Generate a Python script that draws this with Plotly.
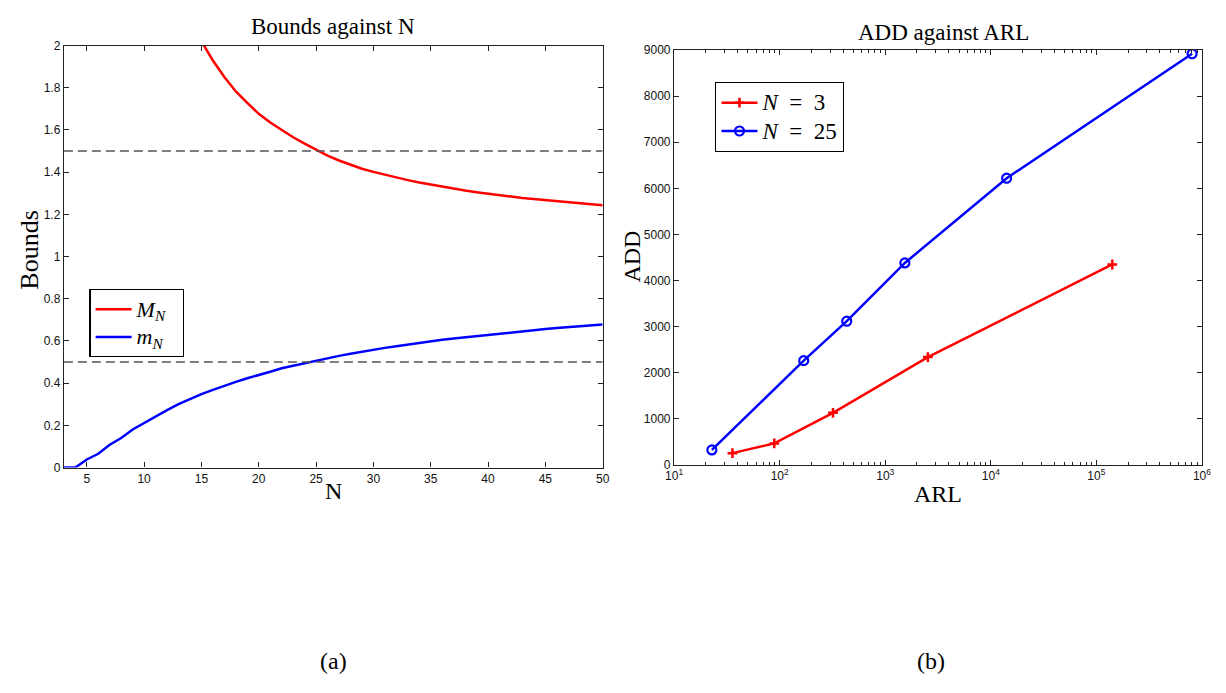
import plotly.graph_objects as go

W, H = 1226, 693

# ---------------- data: panel (a) ----------------
N_lower = list(range(3, 51))
m_N = [0.0, 0.0, 0.038, 0.065, 0.108, 0.14, 0.18, 0.212, 0.243, 0.272, 0.300, 0.325,
       0.348, 0.368, 0.388, 0.406, 0.423, 0.44, 0.454, 0.47, 0.482, 0.494, 0.507,
       0.518, 0.529, 0.539, 0.549, 0.559, 0.567, 0.575, 0.583, 0.591, 0.598, 0.605,
       0.611, 0.617, 0.623, 0.629, 0.635, 0.641, 0.646, 0.651, 0.656, 0.661, 0.665,
       0.670, 0.674, 0.678]
N_upper = list(range(15, 51))
M_N = [2.02, 1.929, 1.851, 1.782, 1.728, 1.676, 1.635, 1.599, 1.565, 1.535, 1.505,
       1.478, 1.455, 1.434, 1.416, 1.401, 1.387, 1.374, 1.362, 1.351, 1.341, 1.331,
       1.322, 1.313, 1.305, 1.297, 1.290, 1.284, 1.277, 1.272, 1.266, 1.261, 1.256,
       1.252, 1.247, 1.243]
ref_levels = [1.5, 0.5]
a_xticks = [5, 10, 15, 20, 25, 30, 35, 40, 45, 50]
a_yticks = [0, 0.2, 0.4, 0.6, 0.8, 1, 1.2, 1.4, 1.6, 1.8, 2]
a_yticklabels = ["0", "0.2", "0.4", "0.6", "0.8", "1", "1.2", "1.4", "1.6", "1.8", "2"]

# ---------------- data: panel (b) ----------------
ARL_N3 = [35.7, 88.9, 320, 2535, 141600]
ADD_N3 = [254, 466, 1130, 2339, 4348]
ARL_N25 = [22.8, 169, 432, 1535, 14130, 807000]
ADD_N25 = [324, 2261, 3117, 4382, 6220, 8921]
b_xticks = [10, 100, 1000, 10000, 100000, 1000000]
b_xticklabels = ["10<sup>1</sup>", "10<sup>2</sup>", "10<sup>3</sup>",
                 "10<sup>4</sup>", "10<sup>5</sup>", "10<sup>6</sup>"]
b_yticks = [0, 1000, 2000, 3000, 4000, 5000, 6000, 7000, 8000, 9000]

SERIF = "Liberation Serif, Times New Roman, serif"
SANS = "Liberation Sans, Arial, sans-serif"
AX = "#222222"


def px_x(x):
    return x / W


def px_y(y):
    return 1 - y / H


def big(txt, size):
    return '<span style="font-size:%dpx">%s</span>' % (size, txt)


fig = go.Figure()

# panel (a)
fig.add_trace(go.Scatter(x=N_upper, y=M_N, mode="lines",
                         name=big("<i>M</i><sub><i>N</i></sub>&nbsp;&nbsp;", 22),
                         line=dict(color="#ff0000", width=2.5), xaxis="x", yaxis="y", legend="legend"))
fig.add_trace(go.Scatter(x=N_lower, y=m_N, mode="lines",
                         name=big("<i>m</i><sub><i>N</i></sub>&nbsp;&nbsp;", 22),
                         line=dict(color="#0000ff", width=2.5), xaxis="x", yaxis="y", legend="legend"))
for lvl in ref_levels:
    fig.add_trace(go.Scatter(x=[N_lower[0], N_lower[-1]], y=[lvl, lvl], mode="lines",
                             line=dict(color="#555555", width=1.3, dash="9px,5px"),
                             showlegend=False, xaxis="x", yaxis="y", hoverinfo="skip"))

# panel (b)
fig.add_trace(go.Scatter(x=ARL_N3, y=ADD_N3, mode="lines+markers",
                         name=big("<i>N</i>&nbsp;&nbsp;=&nbsp;&nbsp;3", 23),
                         line=dict(color="#ff0000", width=2.5),
                         marker=dict(symbol="cross-thin", size=7, line=dict(color="#ff0000", width=2.5)),
                         xaxis="x2", yaxis="y2", legend="legend2"))
fig.add_trace(go.Scatter(x=ARL_N25, y=ADD_N25, mode="lines+markers",
                         name=big("<i>N</i>&nbsp;&nbsp;=&nbsp;&nbsp;25", 23),
                         line=dict(color="#0000ff", width=2.5),
                         marker=dict(symbol="circle-open", size=9, line=dict(color="#0000ff", width=2.2)),
                         xaxis="x2", yaxis="y2", legend="legend2"))

axis_common = dict(showline=True, linecolor=AX, linewidth=1.3, mirror="ticks",
                   ticks="inside", ticklen=5, tickcolor=AX, tickwidth=1,
                   showgrid=False, zeroline=False,
                   tickfont=dict(family=SANS, size=12, color="#111111"))

minor_vals = [m * 10 ** k for k in range(1, 6) for m in range(2, 10)]

fig.update_layout(
    width=W, height=H,
    margin=dict(l=0, r=0, t=0, b=0),
    paper_bgcolor="white", plot_bgcolor="white",
    xaxis=dict(domain=[px_x(55.7), px_x(602.5)], range=[3, 50], tickvals=a_xticks,
               anchor="y", **axis_common),
    yaxis=dict(domain=[px_y(470), px_y(39.3)], range=[0, 2], tickvals=a_yticks,
               ticktext=a_yticklabels, anchor="x", **axis_common),
    xaxis2=dict(domain=[px_x(675), px_x(1210.7)], type="log", range=[1, 6],
                tickvals=b_xticks, ticktext=b_xticklabels, anchor="y2",
                minor=dict(tickvals=minor_vals, ticks="inside", ticklen=3, tickcolor=AX),
                **axis_common),
    yaxis2=dict(domain=[px_y(467.3), px_y(44)], range=[0, 9000], tickvals=b_yticks,
                anchor="x2", **axis_common),
    legend=dict(x=px_x(81.5), y=px_y(288), xanchor="left", yanchor="top",
                bgcolor="white", bordercolor="black", borderwidth=1.3,
                font=dict(family=SERIF, size=19, color="black"),
                tracegroupgap=0, itemwidth=36),
    legend2=dict(x=px_x(716.7), y=px_y(76.7), xanchor="left", yanchor="top",
                 bgcolor="white", bordercolor="black", borderwidth=1.3,
                 font=dict(family=SERIF, size=19.5, color="black"),
                 tracegroupgap=0, itemwidth=36),
    showlegend=True,
)

annotations = [
    ("Bounds against N", 329, 20, 23, 0),
    ("ADD against ARL", 948, 26, 23, 0),
    ("Bounds", 21, 248, 26, -90),
    ("N", 329, 494, 24, 0),
    ("ADD", 632, 255, 24, -90),
    ("ARL", 943, 497, 24, 0),
    ("(a)", 329, 667, 24, 0),
    ("(b)", 936, 667, 24, 0),
]
for text, x, y, size, ang in annotations:
    fig.add_annotation(text=text, x=px_x(x), y=px_y(y), xref="paper", yref="paper",
                       xanchor="center", yanchor="middle", showarrow=False, textangle=ang,
                       font=dict(family=SERIF, size=size, color="black"))

fig.write_html(
    "out.html",
    config={"displayModeBar": False},
    post_script=("document.documentElement.style.margin='0';"
                 "document.body.style.margin='0';"
                 "document.documentElement.style.overflow='hidden';"
                 "document.body.style.overflow='hidden';"),
)
